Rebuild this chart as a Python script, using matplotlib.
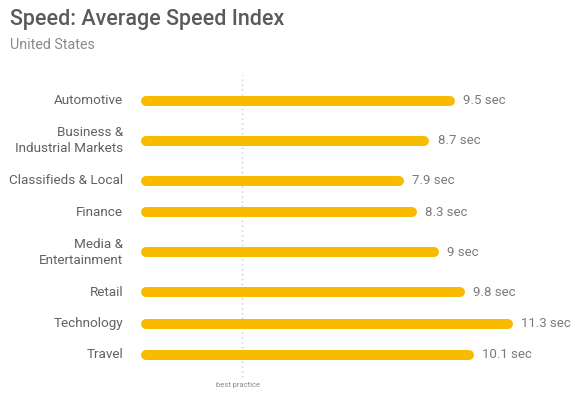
import matplotlib.pyplot as plt
import numpy as np

# --- dati ---------------------------------------------------------
categorie = ['Automotive', 'Business &\nIndustrial Markets', 'Classifieds & Local',
             'Finance', 'Media &\nEntertainment', 'Retail', 'Technology', 'Travel']
velocita = [9.5, 8.7, 7.9, 8.3, 9, 9.8, 11.3, 10.1]
best_practice = 3

GIALLO = '#F9BA00'
GRIGIO_TESTO = '#616161'
GRIGIO_VALORI = '#7a7a7a'

plt.rcParams['font.family'] = ['Roboto', 'DejaVu Sans']

# le etichette su due righe prendono piu' spazio verticale (unita' ~ pixel)
righe = [c.count('\n') for c in categorie]
passi = [31.3 + 8.7 * (righe[i] + righe[i + 1]) for i in range(len(categorie) - 1)]
pos_y = np.concatenate([[0], np.cumsum(passi)])

fig = plt.figure(figsize=(5.8, 3.97), dpi=100)
W, H = 580, 397
top_px = 101 - 16
alto = pos_y[-1] + 32
# assi posizionati in pixel: zero a x=146, 32 px per secondo
ax = fig.add_axes([146 / W, (H - top_px - alto) / H, (W - 146) / W, alto / H])
ax.set_xlim(0, (W - 146) / 32)
ax.set_ylim(pos_y[-1] + 16, -16)
ax.axis('off')

# linea tratteggiata "best practice"
ax.axvline(best_practice, ymin=-0.02, ymax=1.035, color='#c8c8c8', linestyle=(0, (1, 2.5)),
           linewidth=1.0, clip_on=False, zorder=1)

for y, cat, v in zip(pos_y, categorie, velocita):
    ax.plot([0, v], [y, y], color=GIALLO, linewidth=7.2,
            solid_capstyle='round', clip_on=False, zorder=2)
    ax.annotate(f'{v:g} sec', xy=(v, y), xytext=(9.5, 0), textcoords='offset points',
                ha='left', va='center', fontsize=9.5, color=GRIGIO_VALORI)
    ax.annotate(cat, xy=(0, y), xytext=(-16.5, 0), textcoords='offset points',
                ha='right', va='center', fontsize=9.7, color=GRIGIO_TESTO,
                linespacing=1.3)

fig.text(238 / W, 1 - 385 / H, 'best practice', ha='center', va='center',
         fontsize=5.5, color='#8a8a8a')

fig.text(10 / W, 1 - 20 / H, 'Speed: Average Speed Index', ha='left', va='center',
         fontsize=15.5, color='#5a5a5a', fontweight='medium')
fig.text(10 / W, 1 - 45 / H, 'United States', ha='left', va='center',
         fontsize=10.3, color='#8a8a8a')

fig.savefig('out.png', dpi=100)
